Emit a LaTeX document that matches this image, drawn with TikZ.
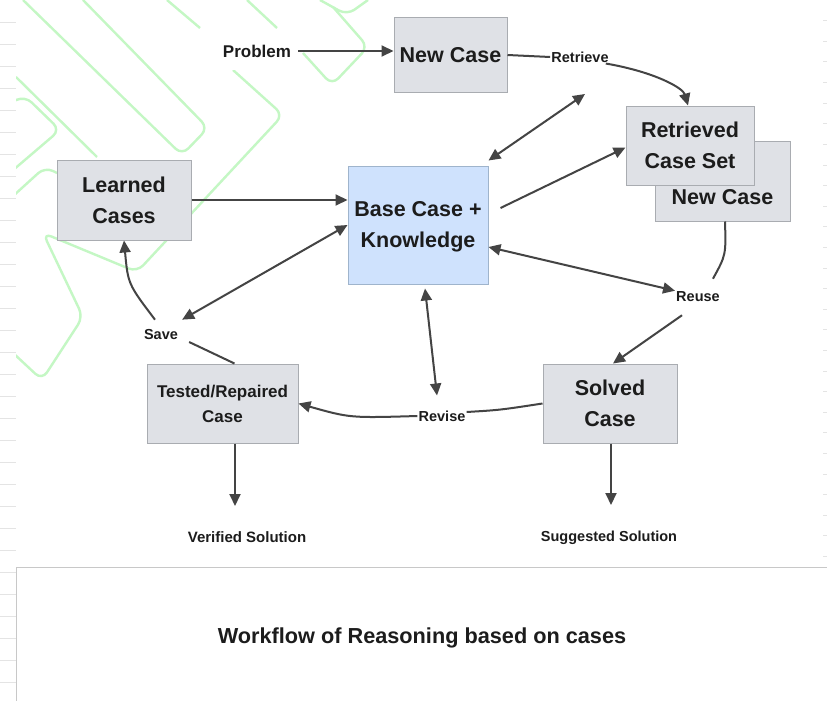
\documentclass[tikz,border=0pt]{standalone}
\usepackage{fontspec}
\setmainfont{Liberation Sans}
\usetikzlibrary{arrows.meta}
\definecolor{boxfill}{HTML}{DFE1E6}
\definecolor{boxline}{HTML}{A9ACB1}
\definecolor{bluefill}{HTML}{CFE2FD}
\definecolor{blueline}{HTML}{9FB4CC}
\definecolor{arrowc}{HTML}{444444}
\definecolor{txt}{HTML}{1C1C1C}
\definecolor{deco}{HTML}{C4F7C4}
\definecolor{tickc}{HTML}{E4E4E4}
\definecolor{panelc}{HTML}{C8C8C8}
\tikzset{
  box/.style={draw=boxline, fill=boxfill, line width=1pt, inner sep=0pt, align=center, text=txt, font=\fontsize{21.5}{31}\selectfont\bfseries},
  boxtxt/.style={inner sep=0pt, align=center, text=txt, font=\fontsize{21.5}{31}\selectfont\bfseries},
  bluebox/.style={box, draw=blueline, fill=bluefill},
  lbl/.style={inner sep=1pt, text=txt, font=\fontsize{14.5}{16}\selectfont\bfseries},
  conn/.style={draw=arrowc, line width=2pt},
  arr/.style={conn, -{Triangle[length=12pt,width=11pt]}},
  darr/.style={conn, {Triangle[length=12pt,width=11pt]}-{Triangle[length=12pt,width=11pt]}},
  decoline/.style={draw=deco, line width=2.4pt, rounded corners=9pt},
}
\begin{document}
\begin{tikzpicture}[x=1pt,y=-1pt]
\useasboundingbox (0,0) rectangle (827,701);
\fill[white] (0,0) rectangle (827,701);
% side ticks
\foreach \k in {1,...,31} \draw[tickc, line width=0.8pt] (0,22*\k) -- (16,22*\k);
\foreach \k in {1,...,27} \draw[tickc, line width=0.6pt] (823,20.6*\k) -- (827,20.6*\k);
% faint background decoration
\begin{scope}
\clip (16,0) rectangle (827,566);
\draw[decoline] (23,0) -- (182,155) -- (208,128) -- (83,0);
\draw[decoline] (167,0) -- (200,28);
\draw[decoline] (247,0) -- (277,28);
\draw[decoline] (233,70) -- (283,115) -- (137,272) -- (43,233) -- (83,317) -- (42,380) -- (12,352);
\draw[decoline] (16,77) -- (97,157);
\draw[decoline] (12,102) -- (25,96) -- (60,130) -- (12,171);
\draw[decoline] (12,197) -- (45,167) -- (57,173);
\draw[decoline] (320,0) -- (347,15) -- (368,0);
\draw[decoline] (333,7) -- (368,47) -- (332,85) -- (303,53);
\fill[white] (195,29) rectangle (298,70);
\end{scope}
% bottom panel
\draw[panelc, line width=1pt] (16,701) -- (16,567) -- (827,567);
% boxes
\node[box, minimum width=135pt, minimum height=80pt] (nc2) at (722.5,181) {};
\node[boxtxt] (nc2t) at (722.5,197) {New Case};
\node[box, minimum width=128pt, minimum height=79pt] (rcs) at (690,145.5) {Retrieved\\Case Set};
\node[box, minimum width=113pt, minimum height=74pt] (newc) at (450.5,55) {New Case};
\node[bluebox, minimum width=140pt, minimum height=118pt] (base) at (418,225) {};
\node[boxtxt] (baset) at (418,227) {Base Case +\\Knowledge};
\node[box, minimum width=134pt, minimum height=80pt] (learned) at (124,200) {Learned\\Cases};
\node[box, minimum width=134pt, minimum height=79pt] (solved) at (610,403.5) {Solved\\Case};
\node[box, minimum width=151pt, minimum height=79pt, font=\fontsize{17}{25}\selectfont\bfseries] (tested) at (222.5,403.5) {Tested/Repaired\\Case};
% labels
\node[lbl, font=\fontsize{17}{20}\selectfont\bfseries] (prob) at (257,51) {Problem};
\node[lbl] (retr) at (580,57) {Retrieve};
\node[lbl] (save) at (161,335) {Save};
\node[lbl] (reuse) at (698,297) {Reuse};
\node[lbl] (revise) at (442,416) {Revise};
\node[lbl, font=\fontsize{15}{18}\selectfont\bfseries] (verified) at (247,537) {Verified Solution};
\node[lbl] (suggested) at (609,537.5) {Suggested Solution};
\node[lbl, font=\fontsize{21.7}{26}\selectfont\bfseries] (title) at (422,638) {Workflow of Reasoning based on cases};
% coordinates for free ends
\coordinate (c1) at (585,94);
\coordinate (vtip) at (235,506);
\coordinate (stip) at (611,505);
% connectors
\draw[arr] ([xshift=6pt]prob.east) -- (prob.east -| newc.west);
\draw[conn] (newc.east) -- (retr.west);
\draw[arr] ([xshift=-4pt]retr.south east) .. controls (655,72) and (683,88) .. ([xshift=-2pt]rcs.north);
\draw[darr] ([yshift=5pt]base.north east) -- (c1);
\draw[arr] ([xshift=12pt,yshift=17pt]base.east) -- ([yshift=-2pt]rcs.west);
\draw[darr] ([yshift=-22pt]base.east) -- (reuse.north west);
\draw[conn] ([xshift=2.5pt]nc2.south) .. controls (726,255) .. ([xshift=-8pt,yshift=12pt]reuse.north east);
\draw[arr] ([xshift=-16pt,yshift=-12pt]reuse.south) -- ([xshift=3pt]solved.north);
\draw[conn] (solved.west) .. controls (500,410) .. ([yshift=4pt]revise.east);
\draw[arr] (revise.west) .. controls (350,418) .. (tested.east);
\draw[darr] ([xshift=7pt,yshift=-4pt]base.south) -- ([xshift=-5pt,yshift=14pt]revise.north);
\draw[conn] ([xshift=12pt]tested.north) -- ([xshift=10pt,yshift=-7pt]save.east);
\draw[arr] ([xshift=-6pt,yshift=9pt]save.north) .. controls (128,284) .. (learned.south);
\draw[darr] (base.west) -- ([xshift=3pt,yshift=9pt]save.north east);
\draw[arr] (learned.east) -- (learned.east -| base.west);
\draw[arr] (tested.south -| vtip) -- (vtip);
\draw[arr] (solved.south -| stip) -- (stip);
\end{tikzpicture}
\end{document}
